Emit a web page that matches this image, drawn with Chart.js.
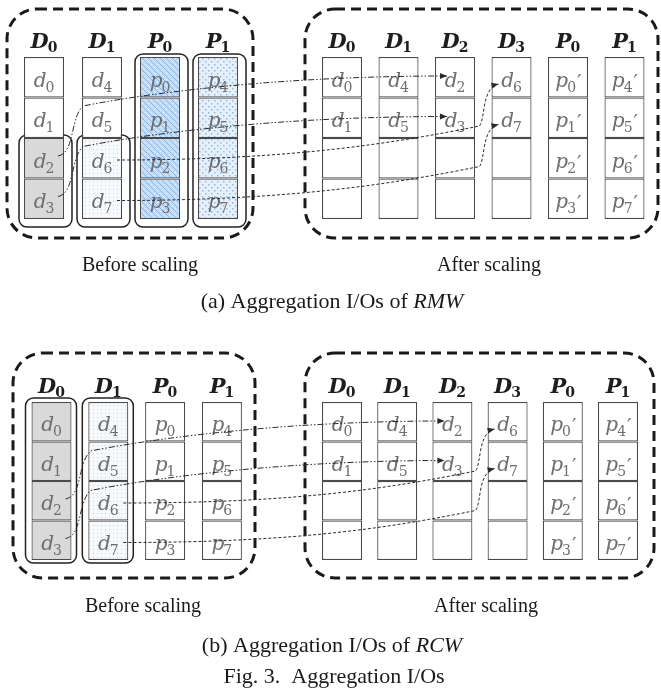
<!DOCTYPE html>
<html>
<head>
<meta charset="utf-8">
<script src="https://cdn.jsdelivr.net/npm/chart.js@4.4.1/dist/chart.umd.min.js"></script>
<style>
  html, body { margin: 0; padding: 0; background: #fff; }
  canvas { display: block; }
</style>
</head>
<body>
<canvas id="fig" width="661" height="688"></canvas>
<script>
// --- data ---
const beforeHeads = ['D0', 'D1', 'P0', 'P1'];
const afterHeads = ['D0', 'D1', 'D2', 'D3', 'P0', 'P1'];
const beforeCells = [
    ['d0', 'd1', 'd2', 'd3'],
    ['d4', 'd5', 'd6', 'd7'],
    ['p0', 'p1', 'p2', 'p3'],
    ['p4', 'p5', 'p6', 'p7']
];
const afterCells = [
    ['d0', 'd1', '', ''],
    ['d4', 'd5', '', ''],
    ['d2', 'd3', '', ''],
    ['d6', 'd7', '', ''],
    ["p0'", "p1'", "p2'", "p3'"],
    ["p4'", "p5'", "p6'", "p7'"]
];
// blocks read by each policy: [column, first row, last row]
const readsRMW = [[0, 2, 3], [1, 2, 3], [2, 0, 3], [3, 0, 3]];
const readsRCW = [[0, 0, 3], [1, 0, 3]];
// migrated blocks: [before col, before row, after col, after row, kind]
const moves = [[0, 2, 2, 0, 'old'], [0, 3, 2, 1, 'old'], [1, 2, 3, 0, 'new'], [1, 3, 3, 1, 'new']];
const sideLabels = ['Before scaling', 'After scaling'];
const captionA = ['(a) Aggregation I/Os of ', 'RMW'];
const captionB = ['(b) Aggregation I/Os of ', 'RCW'];
const figCaption = 'Fig. 3.  Aggregation I/Os';

// --- layout (pixel units, the axes run 0..661 / 0..688) ---
const panels = [
    { reads: readsRMW, caption: captionA, top: 57, rowH: 40.5, bx: 44, bp: 58, ax: 342, ap: 56.5,
      boxes: [[7, 9, 253, 238], [305, 9, 658, 238]], pad: [5, 3, 8, 8],
      sideX: [140, 489], sideY: 271, capY: 308 },
    { reads: readsRCW, caption: captionB, top: 402, rowH: 39.5, bx: 51.5, bp: 56.8, ax: 342, ap: 55.2,
      boxes: [[13, 353, 255, 578], [305, 353, 654, 578]], pad: [6, 4, 5, 3],
      sideX: [143, 486], sideY: 612, capY: 652 }
];
const CELL_W = 40;

// --- fill patterns ---
function makePattern(kind) {
    const c = document.createElement('canvas');
    const s = kind === 'light' ? 4 : 6;
    c.width = s; c.height = s;
    const g = c.getContext('2d');
    if (kind === 'hatch') {
        g.fillStyle = '#c6dcf2'; g.fillRect(0, 0, s, s);
        g.strokeStyle = '#8ab8e6'; g.lineWidth = 1;
        g.beginPath();
        g.moveTo(0, 0); g.lineTo(s, s);
        g.moveTo(-2, s - 2); g.lineTo(2, s + 2);
        g.moveTo(s - 2, -2); g.lineTo(s + 2, 2);
        g.stroke();
        g.fillStyle = '#e8f1fa'; g.fillRect(4, 1, 1, 1); g.fillRect(1, 4, 1, 1);
    } else if (kind === 'dots') {
        g.fillStyle = '#e6f0fa'; g.fillRect(0, 0, s, s);
        g.fillStyle = '#8dbae7';
        g.fillRect(1, 1, 1.5, 1.5); g.fillRect(4, 4, 1.5, 1.5);
    } else {
        g.fillStyle = '#f7fafd'; g.fillRect(0, 0, s, s);
        g.fillStyle = '#bcd6f0';
        g.fillRect(1, 1, 1, 1);
    }
    return g.createPattern(c, 'repeat');
}
const fills = ['#d9d9d9', makePattern('light'), makePattern('hatch'), makePattern('dots')];

// --- build the cells ---
const cellData = [];
const cellFill = [];
const cellText = [];
const cellRow = [];
const colX = (p, side, c) => side === 0 ? p.bx + c * p.bp : p.ax + c * p.ap;
panels.forEach(p => {
    [beforeCells, afterCells].forEach((cols, side) => {
        cols.forEach((rows, c) => {
            rows.forEach((label, r) => {
                const read = side === 0 && p.reads.some(([rc, r0, r1]) => rc === c && r >= r0 && r <= r1);
                cellData.push({ x: colX(p, side, c), y: [p.top + r * p.rowH, p.top + (r + 1) * p.rowH] });
                cellFill.push(read ? fills[c] : '#ffffff');
                cellText.push(label);
                cellRow.push(p.top + r * p.rowH);
            });
        });
    });
});

// --- drawing helpers ---
function roundRect(ctx, x0, y0, x1, y1, r) {
    ctx.beginPath();
    ctx.moveTo(x0 + r, y0);
    ctx.arcTo(x1, y0, x1, y1, r);
    ctx.arcTo(x1, y1, x0, y1, r);
    ctx.arcTo(x0, y1, x0, y0, r);
    ctx.arcTo(x0, y0, x1, y0, r);
    ctx.closePath();
}

function drawMath(ctx, text, cx, baseY, o) {
    const prime = text.endsWith("'");
    const base = text[0];
    const sub = text.slice(1).replace("'", '');
    ctx.font = o.base; const wb = ctx.measureText(base).width;
    ctx.font = o.sub; const ws = ctx.measureText(sub).width;
    ctx.font = o.prime; const wp = prime ? ctx.measureText('\u2032').width : 0;
    let x = cx - (wb + ws + wp - o.kern) / 2;
    ctx.textAlign = 'left';
    ctx.textBaseline = 'alphabetic';
    ctx.fillStyle = o.color;
    ctx.font = o.base; ctx.fillText(base, x, baseY);
    x += wb - o.kern;
    ctx.font = o.sub; ctx.fillText(sub, x, baseY + o.drop);
    x += ws;
    if (prime) { ctx.font = o.prime; ctx.fillText('\u2032', x + 1, baseY + 2); }
}

const labelFont = { base: 'italic 20px "DejaVu Serif"', sub: '14px "DejaVu Serif"', prime: '20px "DejaVu Serif"',
    color: '#6e6e6e', kern: 1, drop: 5 };
const headFont = { base: 'bold italic 21px "DejaVu Serif"', sub: 'bold 14px "DejaVu Serif"', prime: '',
    color: '#1e1e1e', kern: 1, drop: 4 };

function arrowHead(ctx, fx, fy, tx, ty) {
    const a = Math.atan2(ty - fy, tx - fx);
    ctx.save();
    ctx.setLineDash([]);
    ctx.beginPath();
    ctx.moveTo(tx, ty);
    ctx.lineTo(tx - 7 * Math.cos(a) + 3 * Math.sin(a), ty - 7 * Math.sin(a) - 3 * Math.cos(a));
    ctx.lineTo(tx - 7 * Math.cos(a) - 3 * Math.sin(a), ty - 7 * Math.sin(a) + 3 * Math.cos(a));
    ctx.closePath();
    ctx.fill();
    ctx.restore();
}

function centerText(ctx, parts, cx, y, size) {
    const fonts = [size + 'px "Liberation Serif"', 'italic ' + size + 'px "Liberation Serif"'];
    let w = 0;
    parts.forEach((t, i) => { ctx.font = fonts[i]; w += ctx.measureText(t).width; });
    let x = cx - w / 2;
    ctx.textAlign = 'left';
    ctx.textBaseline = 'alphabetic';
    ctx.fillStyle = '#1a1a1a';
    parts.forEach((t, i) => { ctx.font = fonts[i]; ctx.fillText(t, x, y); x += ctx.measureText(t).width; });
}

const figurePlugin = {
    id: 'figure',
    beforeDatasetsDraw(chart) {
        const ctx = chart.ctx;
        const X = v => chart.scales.x.getPixelForValue(v);
        const Y = v => chart.scales.y.getPixelForValue(v);
        ctx.save();
        panels.forEach(p => {
            // dashed outer frames
            ctx.setLineDash([10, 6]);
            ctx.lineWidth = 3;
            ctx.strokeStyle = '#1a1a1a';
            p.boxes.forEach(([x0, y0, x1, y1]) => {
                roundRect(ctx, X(x0), Y(y0), X(x1), Y(y1), 30);
                ctx.stroke();
            });
            // solid frames round the blocks that are read
            ctx.setLineDash([]);
            ctx.lineWidth = 1.5;
            ctx.strokeStyle = '#222';
            p.reads.forEach(([c, r0, r1]) => {
                const cx = colX(p, 0, c);
                roundRect(ctx, X(cx - CELL_W / 2 - p.pad[0]), Y(p.top + r0 * p.rowH - p.pad[1]),
                    X(cx + CELL_W / 2 + p.pad[2]), Y(p.top + (r1 + 1) * p.rowH + p.pad[3]), 8);
                ctx.stroke();
            });
        });
        ctx.restore();
    },
    afterDatasetsDraw(chart) {
        const ctx = chart.ctx;
        const X = v => chart.scales.x.getPixelForValue(v);
        const Y = v => chart.scales.y.getPixelForValue(v);
        ctx.save();
        // cell labels
        chart.getDatasetMeta(0).data.forEach((bar, i) => {
            if (!cellText[i]) return;
            const h = Math.abs(bar.height);
            drawMath(ctx, cellText[i], bar.x, Y(cellRow[i]) + h * 0.74, labelFont);
        });
        panels.forEach(p => {
            // column heads
            beforeHeads.forEach((t, c) => drawMath(ctx, t, X(colX(p, 0, c)), Y(p.top - 9), headFont));
            afterHeads.forEach((t, c) => drawMath(ctx, t, X(colX(p, 1, c)), Y(p.top - 9), headFont));
            // migration arrows
            ctx.strokeStyle = '#2a2a2a';
            ctx.fillStyle = '#2a2a2a';
            ctx.lineWidth = 1;
            moves.forEach(([bc, br, ac, ar, kind]) => {
                const sx = X(colX(p, 0, bc) + (kind === 'old' ? 14 : 15));
                const sy = Y(p.top + br * p.rowH + (kind === 'old' ? 18 : 22));
                ctx.beginPath();
                let cx2, cy2, ex, ey;
                if (kind === 'old') {
                    ex = X(colX(p, 1, ac) - 8);
                    ey = Y(p.top + ar * p.rowH + 19);
                    const gx = sx + 15, mx = gx + 10, my = ey + 30;
                    ctx.setLineDash([6, 2, 1.5, 2, 1.5, 2]);
                    ctx.moveTo(sx, sy);
                    ctx.bezierCurveTo(gx + 2, sy - 3, gx - 3, my + 12, mx, my);
                    cx2 = mx + 180; cy2 = ey;
                    ctx.bezierCurveTo(mx + 50, my - 10, cx2, cy2, ex, ey);
                } else {
                    ex = X(colX(p, 1, ac) - 13);
                    ey = Y(p.top + ar * p.rowH + 27);
                    const kx = ex - 19, ky = ey + 42;
                    ctx.setLineDash([3, 2]);
                    ctx.moveTo(sx, sy);
                    ctx.bezierCurveTo(sx + 180, sy, kx - 80, ky + 16, kx, ky);
                    cx2 = kx + 2; cy2 = ey + 4;
                    ctx.bezierCurveTo(kx + 6, ky - 8, cx2, cy2, ex, ey);
                }
                ctx.stroke();
                arrowHead(ctx, cx2, cy2, ex, ey);
            });
            // captions
            sideLabels.forEach((t, k) => centerText(ctx, [t], X(p.sideX[k]), Y(p.sideY), 20));
            centerText(ctx, p.caption, X(332), Y(p.capY), 22);
        });
        centerText(ctx, [figCaption], X(334), Y(683), 22);
        ctx.restore();
    }
};

new Chart(document.getElementById('fig'), {
    type: 'bar',
    data: {
        datasets: [{
            data: cellData,
            backgroundColor: ctx => cellFill[ctx.dataIndex],
            borderColor: '#4a4a4a',
            borderWidth: 1.2,
            borderSkipped: false,
            inflateAmount: 0,
            barThickness: CELL_W
        }]
    },
    options: {
        responsive: false,
        animation: false,
        devicePixelRatio: 1,
        layout: { padding: 0 },
        plugins: { legend: { display: false }, tooltip: { enabled: false } },
        scales: {
            x: { type: 'linear', min: 0, max: 661, offset: false, display: false },
            y: { type: 'linear', min: 0, max: 688, reverse: true, display: false, beginAtZero: false }
        }
    },
    plugins: [figurePlugin]
});
</script>
</body>
</html>
